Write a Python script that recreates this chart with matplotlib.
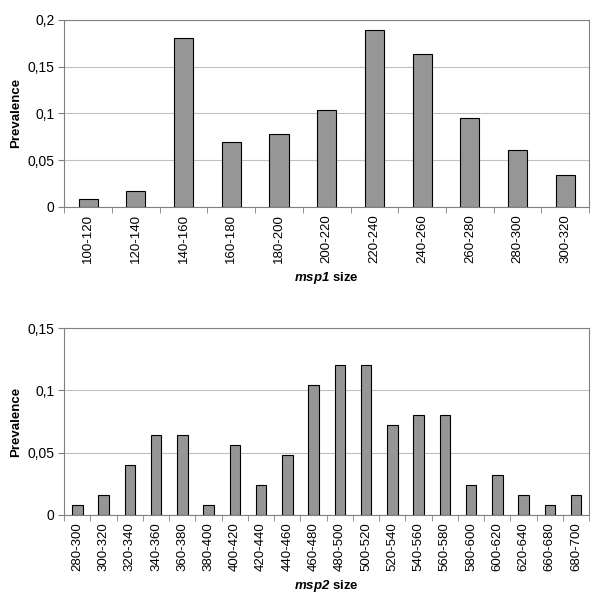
import matplotlib
matplotlib.use("Agg")
import matplotlib.pyplot as plt
import numpy as np
from matplotlib.ticker import FuncFormatter

plt.rcParams['font.family'] = ['Liberation Sans', 'DejaVu Sans']
plt.rcParams['mathtext.fontset'] = 'custom'
plt.rcParams['mathtext.it'] = 'Liberation Sans:italic:bold'
plt.rcParams['mathtext.rm'] = 'Liberation Sans:italic:bold'
plt.rcParams['mathtext.bf'] = 'Liberation Sans:italic:bold'

msp1_labels = ["100-120", "120-140", "140-160", "160-180", "180-200", "200-220",
               "220-240", "240-260", "260-280", "280-300", "300-320"]
msp1_values = [0.0086, 0.0172, 0.181, 0.069, 0.0776, 0.1034, 0.1897, 0.1638,
               0.0948, 0.0603, 0.0345]

msp2_labels = ["280-300", "300-320", "320-340", "340-360", "360-380", "380-400",
               "400-420", "420-440", "440-460", "460-480", "480-500", "500-520",
               "520-540", "540-560", "560-580", "580-600", "600-620", "620-640",
               "660-680", "680-700"]
msp2_values = [0.008, 0.016, 0.040, 0.064, 0.064, 0.008, 0.056, 0.024, 0.048,
               0.104, 0.120, 0.120, 0.072, 0.080, 0.080, 0.024, 0.032, 0.016,
               0.008, 0.016]

fig = plt.figure(figsize=(6.0, 6.03), dpi=100)

def fmt(v, pos):
    s = ("%g" % round(v, 4)).replace(".", ",")
    return s

def draw(ax, labels, values, ymax, ystep, gene):
    n = len(labels)
    x = np.arange(n)
    ax.bar(x, values, width=0.4, color="#969696", edgecolor="black", linewidth=0.8, zorder=3)
    ax.set_xlim(-0.5, n - 0.5)
    ax.set_ylim(0, ymax)
    ax.set_yticks(np.arange(0, ymax + 1e-9, ystep))
    ax.yaxis.set_major_formatter(FuncFormatter(fmt))
    ax.grid(axis="y", color="#c0c0c0", linewidth=0.8, zorder=0)
    ax.set_xticks(x)
    ax.set_xticklabels(labels, rotation=90, fontsize=9.5)
    ax.tick_params(axis="x", which="major", length=0, pad=5)
    ax.set_xticks(np.arange(-0.5, n, 1.0), minor=True)
    ax.tick_params(axis="x", which="minor", length=4, color="#808080", direction="out")
    ax.tick_params(axis="y", labelsize=10, length=4, color="#808080", pad=3)
    for s in ax.spines.values():
        s.set_color("#808080")
        s.set_linewidth(0.8)
    ax.set_ylabel("Prevalence", fontsize=9.5, fontweight="bold", labelpad=4)
    ax.set_xlabel(r"$" + gene + r"$" + " size", fontsize=9.5,
                  fontweight="bold", labelpad=5)

ax1 = fig.add_axes([0.107, 0.657, 0.875, 0.31])
draw(ax1, msp1_labels, msp1_values, 0.2, 0.05, "msp1")
ax2 = fig.add_axes([0.107, 0.146, 0.875, 0.31])
draw(ax2, msp2_labels, msp2_values, 0.15, 0.05, "msp2")

fig.savefig("out.png", dpi=100)
